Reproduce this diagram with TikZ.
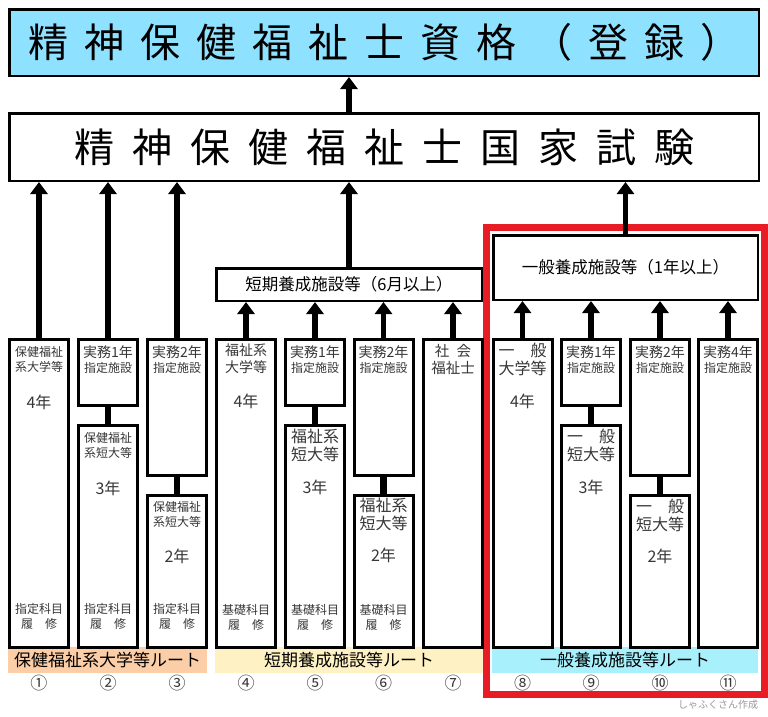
\documentclass[tikz,border=0pt]{standalone}
\usepackage{fontspec}
\setmainfont{Noto Sans CJK JP}
\usetikzlibrary{arrows.meta}
\definecolor{qualblue}{RGB}{142,225,255}
\definecolor{bandpeach}{RGB}{252,206,168}
\definecolor{bandyellow}{RGB}{254,242,196}
\definecolor{bandcyan}{RGB}{168,240,252}
\definecolor{framered}{RGB}{232,28,36}
\definecolor{colgray}{RGB}{55,55,55}
\newcommand{\practice}[1]{{\fontsize{14}{15}\selectfont 実務#1年}\\{\fontsize{12}{15}\selectfont 指定施設}}
\newcommand{\headfont}[1]{\fontsize{40}{40}\selectfont\setlength{\spaceskip}{#1}}
\tikzset{
  colbox/.style={draw, line width=3pt, minimum width=59pt, inner sep=0pt, anchor=north, fill=white},
  headbox/.style={draw, line width=2.5pt, inner sep=0pt},
  band/.style={inner sep=0pt, minimum height=26pt, font=\fontsize{17}{17}\selectfont},
  upar/.style={line width=5.5pt, -{Triangle[width=17pt,length=12pt]}},
  link/.style={line width=6.5pt},
  lbl/.style={align=center, inner sep=0pt, text=colgray, font=\fontsize{12}{15}\selectfont},
  big/.style={lbl, font=\fontsize{16}{18}\selectfont},
  yr/.style={lbl, font=\fontsize{16}{16}\selectfont},
}
\begin{document}
\begin{tikzpicture}[x=1pt, y=-1pt]
\useasboundingbox (0,0) rectangle (768,716);
% frame round the general route
\draw[framered, line width=7pt] (486.5,227) rectangle (764.5,694.5);
% top boxes
\node[headbox, fill=qualblue, minimum width=749.5pt, minimum height=66.5pt] (qual) at (384,42.5)
  {\headfont{16pt}精 神 保 健 福 祉 士 資 格 （ 登 録 ）};
\node[headbox, fill=white, minimum width=749.5pt, minimum height=67.5pt] (exam) at (384,147)
  {\headfont{18pt}精 神 保 健 福 祉 士 国 家 試 験};
\node[headbox, minimum width=265.5pt, minimum height=32.5pt, font=\fontsize{16.5}{16.5}\selectfont] (short) at (349,284.5) {短期養成施設等（6月以上）};
\node[headbox, minimum width=264.5pt, minimum height=64.5pt, font=\fontsize{16.5}{16.5}\selectfont] (gen) at (625.5,267.5) {一般養成施設等（1年以上）};
% route bands
\node[band, fill=bandpeach, minimum width=199pt] (route1) at (107.5,660) {保健福祉系大学等ルート};
\node[band, fill=bandyellow, minimum width=268pt] (route2) at (349,660) {短期養成施設等ルート};
\node[band, fill=bandcyan, minimum width=266pt] (route3) at (625,660) {一般養成施設等ルート};
% columns
\node[colbox, minimum height=308pt] (col1) at (39,337.5) {};
\node[colbox, minimum height=66pt] (up2) at (108,337.5) {};
\node[colbox, minimum height=222pt] (lo2) at (108,423.5) {};
\node[colbox, minimum height=136pt] (up3) at (177,337.5) {};
\node[colbox, minimum height=152pt] (lo3) at (177,493.5) {};
\node[colbox, minimum height=308pt] (col4) at (246,337.5) {};
\node[colbox, minimum height=66pt] (up5) at (315,337.5) {};
\node[colbox, minimum height=222pt] (lo5) at (315,423.5) {};
\node[colbox, minimum height=136pt] (up6) at (383.5,337.5) {};
\node[colbox, minimum height=152pt] (lo6) at (383.5,493.5) {};
\node[colbox, minimum height=308pt] (col7) at (453,337.5) {};
\node[colbox, minimum height=308pt] (col8) at (522.5,337.5) {};
\node[colbox, minimum height=66pt] (up9) at (591,337.5) {};
\node[colbox, minimum height=222pt] (lo9) at (591,423.5) {};
\node[colbox, minimum height=136pt] (up10) at (660,337.5) {};
\node[colbox, minimum height=152pt] (lo10) at (660,493.5) {};
\node[colbox, minimum height=308pt] (col11) at (728,337.5) {};
% column texts
\node[lbl] (t1) at (39,359) {保健福祉\\系大学等};
\node[yr] (y1) at (39,402) {4年};
\node[lbl] (b1) at (39,616.5) {指定科目\\履　修};
\node[lbl] (t2) at (108,359.5) {\practice{1}};
\node[lbl] (s2) at (108,445.5) {保健福祉\\系短大等};
\node[yr] (y2) at (108,488) {3年};
\node[lbl] (b2) at (108,616.5) {指定科目\\履　修};
\node[lbl] (t3) at (177,359.5) {\practice{2}};
\node[lbl] (s3) at (177,514) {保健福祉\\系短大等};
\node[yr] (y3) at (177,556) {2年};
\node[lbl] (b3) at (177,616.5) {指定科目\\履　修};
\node[lbl, font=\fontsize{14}{17}\selectfont] (t4) at (246,358.5) {福祉系\\大学等};
\node[yr] (y4) at (246,401) {4年};
\node[lbl] (b4) at (246,617) {基礎科目\\履　修};
\node[lbl] (t5) at (315,359.5) {\practice{1}};
\node[big] (s5) at (315,445) {福祉系\\短大等};
\node[yr] (y5) at (315,487) {3年};
\node[lbl] (b5) at (315,617) {基礎科目\\履　修};
\node[lbl] (t6) at (383.5,359.5) {\practice{2}};
\node[big] (s6) at (383.5,514.5) {福祉系\\短大等};
\node[yr] (y6) at (383.5,555) {2年};
\node[lbl] (b6) at (383.5,617) {基礎科目\\履　修};
\node[lbl, font=\fontsize{14.5}{17}\selectfont] (t7) at (453,359.5) {社\hspace{.5em}会\\福祉士};
\node[big] (t8) at (522.5,359.5) {一　般\\大学等};
\node[yr] (y8) at (522.5,401) {4年};
\node[lbl] (t9) at (591,359.5) {\practice{1}};
\node[big] (s9) at (591,445.5) {一　般\\短大等};
\node[yr] (y9) at (591,487) {3年};
\node[lbl] (t10) at (660,359.5) {\practice{2}};
\node[big] (s10) at (660,515) {一　般\\短大等};
\node[yr] (y10) at (660,556) {2年};
\node[lbl] (t11) at (728,359.5) {\practice{4}};
% numbers
\foreach \n/\x [count=\i] in {①/39,②/108,③/177,④/246,⑤/315,⑥/383.5,⑦/453,⑧/522.5,⑨/591,⑩/660,⑪/728}
  \node[font=\fontsize{17}{17}\selectfont, text=colgray, inner sep=0pt] (n\i) at (\x,683) {\n};
\node[font=\fontsize{10}{10}\selectfont, text=gray!80, inner sep=0pt] (credit) at (718,705) {しゃふくさん作成};
% links and arrows
\foreach \c in {2,3,5,6,9,10}
  \draw[link] (up\c.south) -- (lo\c.north);
\foreach \c in {col1,up2,up3}
  \draw[upar] (\c.north) -- (exam.south -| \c.north);
\foreach \c in {col4,up5,up6,col7}
  \draw[upar] (\c.north) -- (short.south -| \c.north);
\foreach \c in {col8,up9,up10,col11}
  \draw[upar] (\c.north) -- (gen.south -| \c.north);
\draw[upar] (short.north) -- (exam.south -| short.north);
\draw[upar] (gen.north) -- (exam.south -| gen.north);
\draw[upar] (exam.north -| short.north) -- (qual.south -| short.north);
\end{tikzpicture}
\end{document}
